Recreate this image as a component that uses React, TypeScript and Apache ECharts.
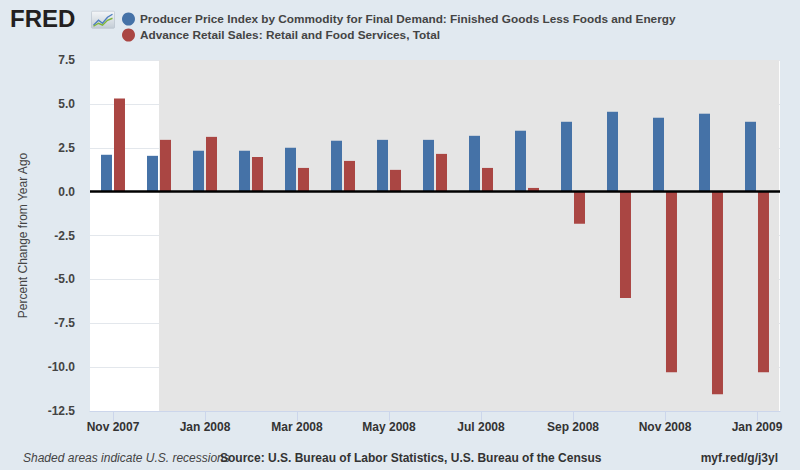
import React, { useEffect, useRef } from "react";
import * as echarts from "echarts";

const months = [
  "Nov 2007", "Dec 2007", "Jan 2008", "Feb 2008", "Mar 2008", "Apr 2008", "May 2008",
  "Jun 2008", "Jul 2008", "Aug 2008", "Sep 2008", "Oct 2008", "Nov 2008", "Dec 2008", "Jan 2009",
];
const ppiValues = [2.1, 2.04, 2.33, 2.33, 2.5, 2.9, 2.95, 2.95, 3.18, 3.47, 3.98, 4.55, 4.21, 4.44, 3.98];
const retailValues = [5.3, 2.95, 3.12, 1.98, 1.35, 1.75, 1.24, 2.15, 1.35, 0.21, -1.83, -6.06, -10.29, -11.54, -10.29];
const yTicks = { min: -12.5, max: 7.5, interval: 2.5 };
const recessionStart = 1.5; // center of Dec 2007 band (band index space)
const seriesNames = [
  "Producer Price Index by Commodity for Final Demand: Finished Goods Less Foods and Energy",
  "Advance Retail Sales: Retail and Food Services, Total",
];

const FONT = "'Liberation Sans', Arial, sans-serif";

export default function App() {
  const ref = useRef<HTMLDivElement>(null);
  useEffect(() => {
    if (!ref.current) return;
    const chart = echarts.init(ref.current, undefined, { renderer: "svg" });
    chart.setOption({
      animation: false,
      backgroundColor: "#e1e9f0",
      textStyle: { fontFamily: FONT },
      grid: {
        left: 90, right: 20, top: 60, bottom: 59,
        show: true, backgroundColor: "#ffffff", borderWidth: 0,
      },
      legend: {
        orient: "vertical",
        left: 117,
        top: 7,
        icon: "circle",
        itemWidth: 13,
        itemHeight: 13,
        itemGap: 2,
        selectedMode: false,
        textStyle: {
          fontFamily: FONT, fontWeight: "bold", fontSize: 11.8, color: "#444",
          lineHeight: 14,
        },
        data: seriesNames,
      },
      xAxis: [
        {
          type: "category",
          data: months,
          axisLine: { show: true, onZero: false, lineStyle: { color: "#ccd6eb", width: 1 } },
          axisTick: { show: true, alignWithLabel: true, interval: 1, length: 10, lineStyle: { color: "#ccd6eb" } },
          axisLabel: {
            interval: 1, margin: 10, fontFamily: FONT, fontWeight: "bold", fontSize: 12, color: "#333",
          },
          splitLine: { show: false },
        },
        { type: "value", min: 0, max: 15, show: false },
      ],
      yAxis: {
        type: "value",
        min: yTicks.min,
        max: yTicks.max,
        interval: yTicks.interval,
        name: "Percent Change from Year Ago",
        nameLocation: "middle",
        nameGap: 61,
        nameTextStyle: { fontFamily: FONT, fontSize: 12, color: "#444" },
        axisLine: { show: false },
        axisTick: { show: false },
        axisLabel: {
          margin: 15, fontFamily: FONT, fontWeight: "bold", fontSize: 12, color: "#444",
          formatter: (v: number) => v.toFixed(1),
        },
        splitLine: { show: true, lineStyle: { color: "#e3e7ec", width: 1 } },
      },
      series: [
        {
          type: "scatter",
          xAxisIndex: 1,
          data: [],
          silent: true,
          markArea: {
            silent: true,
            itemStyle: { color: "#e5e5e5" },
            data: [[{ xAxis: recessionStart }, { xAxis: 14.98 }]],
          },
          markLine: {
            silent: true,
            symbol: "none",
            label: { show: false },
            lineStyle: { color: "#000", width: 2.5, type: "solid" },
            data: [{ yAxis: 0 }],
            z: 5,
          },
        },
        {
          name: seriesNames[0],
          type: "bar",
          data: ppiValues,
          barWidth: 11,
          barGap: "18%",
          itemStyle: { color: "#4572a7" },
          z: 3,
        },
        {
          name: seriesNames[1],
          type: "bar",
          data: retailValues,
          barWidth: 11,
          barGap: "18%",
          itemStyle: { color: "#aa4643" },
          z: 3,
        },
      ],
      graphic: [
        {
          type: "text",
          left: 10,
          top: 6,
          style: { text: "FRED", fontFamily: FONT, fontWeight: "bold", fontSize: 24, fill: "#231f20" },
        },
        {
          type: "group",
          left: 91,
          top: 11,
          children: [
            {
              type: "rect",
              shape: { x: 0, y: 0, width: 23, height: 17, r: 1 },
              style: {
                fill: new echarts.graphic.LinearGradient(0, 0, 0, 1, [
                  { offset: 0, color: "#f4f6f8" },
                  { offset: 1, color: "#c3ccd5" },
                ]),
                stroke: "#aab5c0",
                lineWidth: 0.5,
              },
            },
            {
              type: "polyline",
              shape: { points: [[2, 14], [7, 9], [11, 12], [16, 6], [21, 3]] },
              style: { stroke: "#4f7fbf", lineWidth: 1.4, fill: "none" },
            },
            {
              type: "polyline",
              shape: { points: [[2, 15], [7, 12], [11, 14], [16, 9], [21, 7]] },
              style: { stroke: "#7fb53a", lineWidth: 1.4, fill: "none" },
            },
          ],
        },
        {
          type: "text",
          left: 23,
          top: 452,
          style: { text: "Shaded areas indicate U.S. recessions", fontFamily: FONT, fontStyle: "italic", fontSize: 12, fill: "#444" },
        },
        {
          type: "text",
          left: 220,
          top: 452,
          style: {
            text: "Source: U.S. Bureau of Labor Statistics, U.S. Bureau of the Census",
            fontFamily: FONT, fontWeight: "bold", fontSize: 12, fill: "#333",
          },
        },
        {
          type: "text",
          right: 22,
          top: 452,
          style: { text: "myf.red/g/j3yl", fontFamily: FONT, fontWeight: "bold", fontSize: 12, fill: "#333" },
        },
      ],
    });
    return () => chart.dispose();
  }, []);
  return <div ref={ref} style={{ width: 800, height: 470, position: "absolute", left: 0, top: 0 }} />;
}
